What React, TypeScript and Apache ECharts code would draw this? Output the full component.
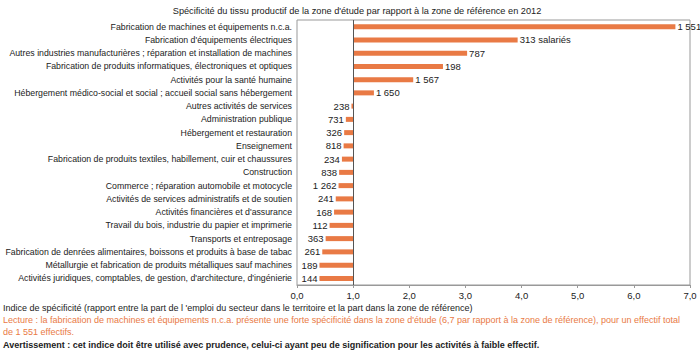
import React, { useEffect, useRef } from "react";
import * as echarts from "echarts";

const titleText =
  "Spécificité du tissu productif de la zone d'étude par rapport à la zone de référence en 2012";

const categories = [
  "Fabrication de machines et équipements n.c.a.",
  "Fabrication d'équipements électriques",
  "Autres industries manufacturières ; réparation et installation de machines",
  "Fabrication de produits informatiques, électroniques et optiques",
  "Activités pour la santé humaine",
  "Hébergement médico-social et social ; accueil social sans hébergement",
  "Autres activités de services",
  "Administration publique",
  "Hébergement et restauration",
  "Enseignement",
  "Fabrication de produits textiles, habillement, cuir et chaussures",
  "Construction",
  "Commerce ; réparation automobile et motocycle",
  "Activités de services administratifs et de soutien",
  "Activités financières et d'assurance",
  "Travail du bois, industrie du papier et imprimerie",
  "Transports et entreposage",
  "Fabrication de denrées alimentaires, boissons et produits à base de tabac",
  "Métallurgie et fabrication de produits métalliques sauf machines",
  "Activités juridiques, comptables, de gestion, d'architecture, d'ingénierie",
];

const indices = [
  6.74, 3.93, 3.03, 2.6, 2.07, 1.37, 0.97, 0.87, 0.84, 0.83, 0.8, 0.75, 0.74,
  0.69, 0.66, 0.58, 0.51, 0.45, 0.4, 0.4,
];

const effectifLabels = [
  "1 551", "313 salariés", "787", "198", "1 567", "1 650", "238", "731", "326",
  "818", "234", "838", "1 262", "241", "168", "112", "363", "261", "189", "144",
];

const xTicks = [0, 1, 2, 3, 4, 5, 6, 7];
const baseline = 1;

const footIndice =
  "Indice de spécificité (rapport entre la part de l 'emploi du secteur dans le territoire et la part dans la zone de référence)";
const footLecture1 =
  "Lecture : la fabrication de machines et équipements n.c.a. présente une forte spécificité dans la zone d'étude (6,7 par rapport à la zone de référence), pour un effectif total";
const footLecture2 = "de 1 551 effectifs.";
const footWarning =
  "Avertissement : cet indice doit être utilisé avec prudence, celui-ci ayant peu de signification pour les activités à faible effectif.";

const FONT = "'Liberation Sans', Arial, sans-serif";
const ORANGE = "#E97A45";
const TEXT = "#222";
const FS = 9;

export default function App() {
  const ref = useRef<HTMLDivElement>(null);
  useEffect(() => {
    document.body.style.margin = "0";
    if (!ref.current) return;
    const chart = echarts.init(ref.current, undefined, { renderer: "svg" });
    const baseData = indices.map((v) => (v > baseline ? baseline : v));
    const barData = indices.map((v, i) => ({
      value: Math.abs(v - baseline),
      label: {
        show: true,
        position: v > baseline ? "right" : "left",
        distance: 2,
        formatter: effectifLabels[i],
        color: TEXT,
        fontSize: FS + 0.5,
        fontFamily: FONT,
      },
    }));
    chart.setOption({
      animation: false,
      textStyle: { fontFamily: FONT },
      title: {
        text: titleText,
        left: 352,
        top: 1,
        textAlign: "center",
        textStyle: { fontSize: FS + 0.2, fontWeight: "normal", color: TEXT, fontFamily: FONT },
      },
      grid: {
        left: 297,
        right: 10,
        top: 20,
        bottom: 68,
        show: true,
        borderColor: "#999",
        borderWidth: 1,
        backgroundColor: "transparent",
        outerBoundsMode: "none",
        containLabel: false,
      },
      xAxis: {
        type: "value",
        min: xTicks[0],
        max: xTicks[xTicks.length - 1],
        interval: 1,
        splitLine: { show: false },
        axisLine: { show: true, lineStyle: { color: "#999" } },
        axisTick: { show: true, length: 3, lineStyle: { color: "#999" } },
        axisLabel: {
          color: TEXT,
          fontSize: FS + 0.5,
          fontFamily: FONT,
          margin: 5,
          formatter: (v: number) => v.toFixed(1).replace(".", ","),
        },
      },
      yAxis: {
        type: "category",
        inverse: true,
        data: categories,
        axisLine: { show: false },
        axisTick: { show: false },
        axisLabel: { interval: 0, color: TEXT, fontSize: FS - 0.25, fontFamily: FONT, margin: 5 },
      },
      series: [
        {
          type: "bar",
          stack: "s",
          data: baseData,
          itemStyle: { color: "transparent" },
          barWidth: 5,
          silent: true,
        },
        {
          type: "bar",
          stack: "s",
          data: barData,
          barWidth: 5,
          itemStyle: { color: ORANGE },
          markLine: {
            silent: true,
            symbol: "none",
            label: { show: false },
            lineStyle: { color: "#555", type: "solid", width: 1 },
            data: [{ xAxis: baseline }],
          },
        },
      ],
      graphic: [
        {
          type: "text",
          left: 3,
          top: 303,
          style: { text: footIndice, fontSize: FS, fill: TEXT, fontFamily: FONT },
        },
        {
          type: "text",
          left: 3,
          top: 315,
          style: { text: footLecture1, fontSize: FS, fill: ORANGE, fontFamily: FONT },
        },
        {
          type: "text",
          left: 3,
          top: 327,
          style: { text: footLecture2, fontSize: FS, fill: ORANGE, fontFamily: FONT },
        },
        {
          type: "text",
          left: 3,
          top: 340,
          style: {
            text: footWarning,
            fontSize: FS,
            fontWeight: "bold",
            fill: TEXT,
            fontFamily: FONT,
          },
        },
      ],
    });
    return () => chart.dispose();
  }, []);
  return <div ref={ref} style={{ width: 700, height: 353 }} />;
}
